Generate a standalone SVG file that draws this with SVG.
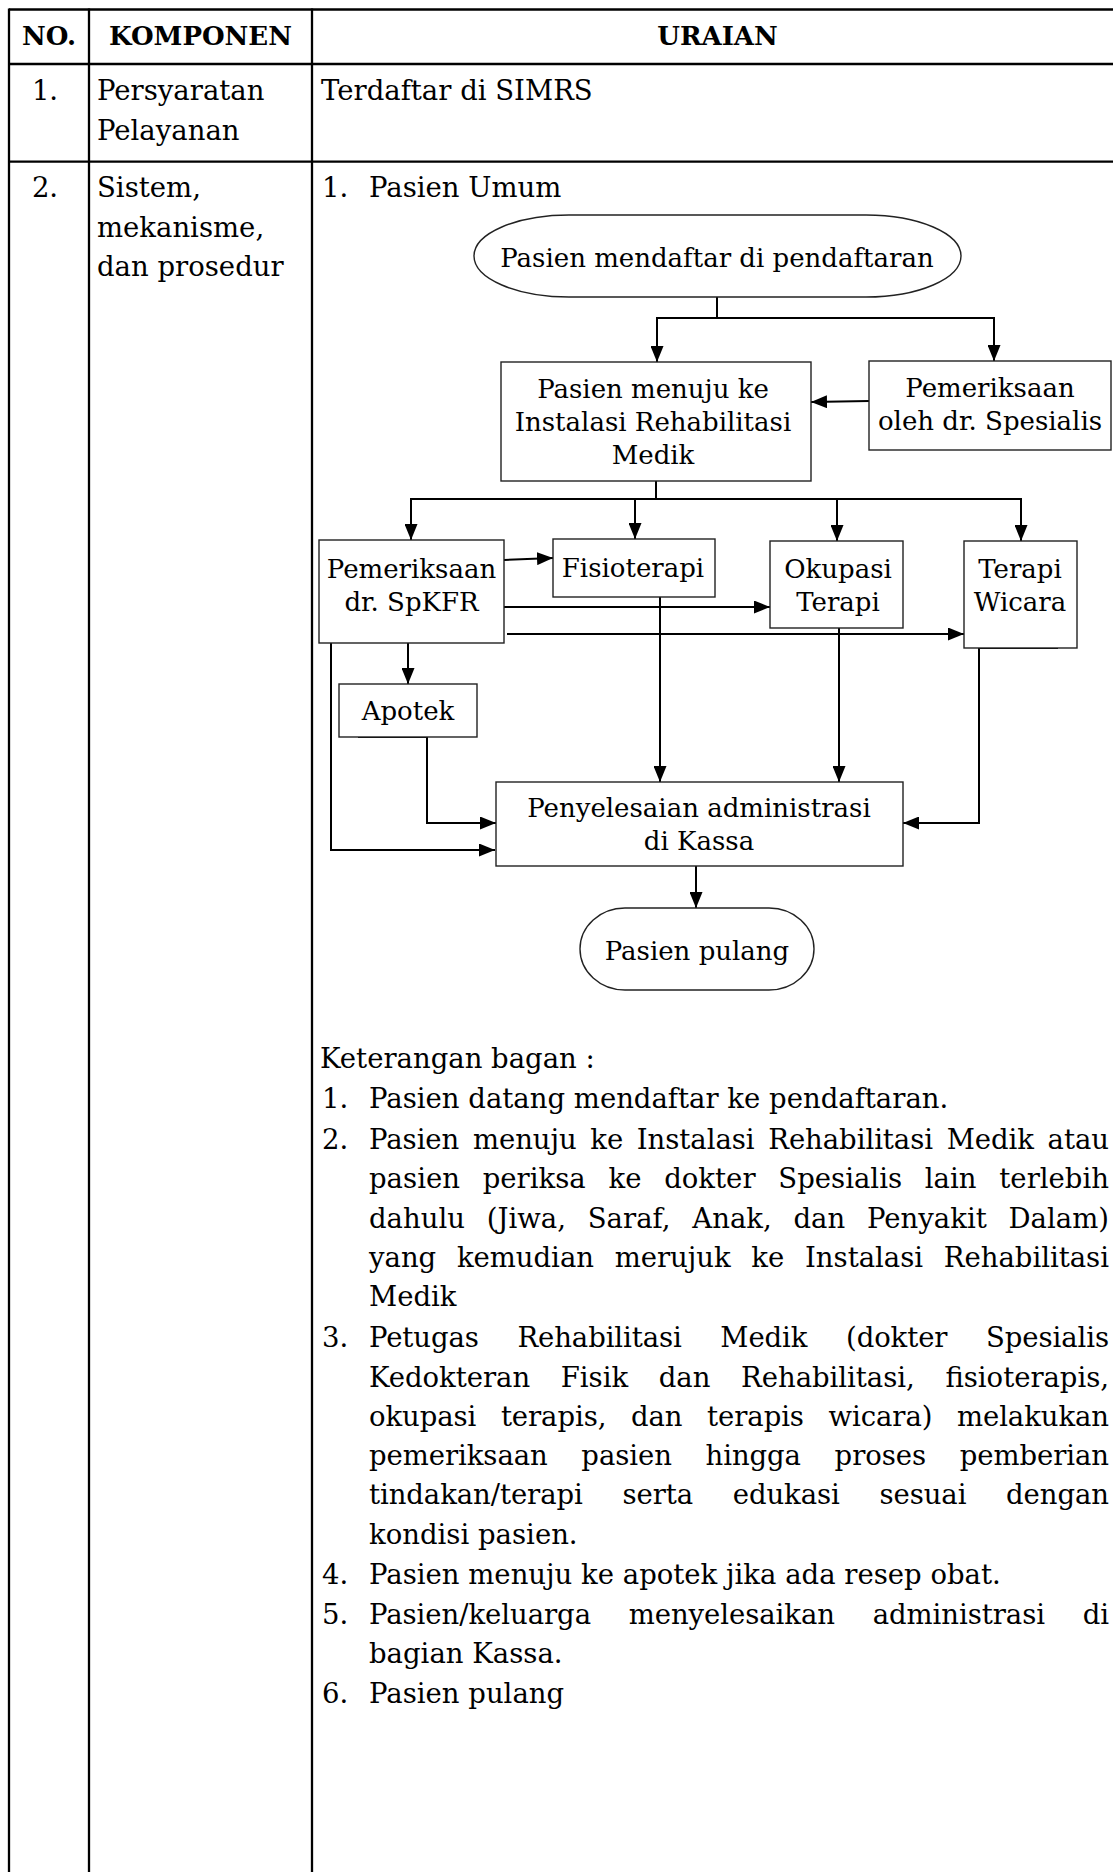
<svg xmlns="http://www.w3.org/2000/svg" width="1113" height="1872" viewBox="0 0 1113 1872">
<style>
.bg{fill:#fff}
.tb{stroke:#000;stroke-width:2.3;fill:none}
.nd{fill:#fff;stroke:#222;stroke-width:1.4}
.cn{fill:none;stroke:#000;stroke-width:2}
.t{font-family:"DejaVu Serif","Liberation Serif",serif;font-size:27.5px;fill:#000}
.th{font-family:"DejaVu Serif","Liberation Serif",serif;font-size:26px;font-weight:bold;fill:#000;text-anchor:middle}
.f{font-family:"DejaVu Serif","Liberation Serif",serif;font-size:26px;fill:#000;text-anchor:middle}
</style>
<defs>
<marker id="ah" markerUnits="userSpaceOnUse" markerWidth="16" markerHeight="13" refX="16" refY="6.5" orient="auto">
<path d="M0,0 L16,6.5 L0,13 z" fill="#000"/>
</marker>
</defs>
<rect class="bg" x="0" y="0" width="1113" height="1872"/>

<g id="table">
<line class="tb" x1="9" y1="9.5" x2="1113" y2="9.5"/>
<line class="tb" x1="9" y1="64" x2="1113" y2="64"/>
<line class="tb" x1="9" y1="161.7" x2="1113" y2="161.7"/>
<line class="tb" x1="9" y1="8.5" x2="9" y2="1872"/>
<line class="tb" x1="89" y1="8.5" x2="89" y2="1872"/>
<line class="tb" x1="312" y1="8.5" x2="312" y2="1872"/>
<text class="th" x="49" y="45">NO.</text>
<text class="th" x="200.5" y="45">KOMPONEN</text>
<text class="th" x="717.5" y="45">URAIAN</text>
<text class="t" x="45" y="100" text-anchor="middle">1.</text>
<text class="t" x="97" y="100">Persyaratan</text>
<text class="t" x="97" y="140">Pelayanan</text>
<text class="t" x="321" y="100">Terdaftar di SIMRS</text>
<text class="t" x="45" y="197" text-anchor="middle">2.</text>
<text class="t" x="97" y="197">Sistem,</text>
<text class="t" x="97" y="236.5">mekanisme,</text>
<text class="t" x="97" y="276">dan prosedur</text>
<text class="t" x="322" y="197">1.</text>
<text class="t" x="369" y="197">Pasien Umum</text>
</g>

<g id="connectors">
<path class="cn" d="M717,297 V318"/>
<path class="cn" d="M717,318 H657 V362" marker-end="url(#ah)"/>
<path class="cn" d="M717,318 H994 V361" marker-end="url(#ah)"/>
<path class="cn" d="M869,401 L811,402" marker-end="url(#ah)"/>
<path class="cn" d="M656,481 V499"/>
<path class="cn" d="M656,499 H411 V540" marker-end="url(#ah)"/>
<path class="cn" d="M635,499 V539" marker-end="url(#ah)"/>
<path class="cn" d="M656,499 H1021 V541" marker-end="url(#ah)"/>
<path class="cn" d="M837,499 V541" marker-end="url(#ah)"/>
<path class="cn" d="M504,560 L553,558" marker-end="url(#ah)"/>
<path class="cn" d="M504,607 H770" marker-end="url(#ah)"/>
<path class="cn" d="M507,634 H964" marker-end="url(#ah)"/>
<path class="cn" d="M408,643 V684" marker-end="url(#ah)"/>
<path class="cn" d="M331,643 V850 H495" marker-end="url(#ah)"/>
<path class="cn" d="M358,737 H427 V823 H496" marker-end="url(#ah)"/>
<path class="cn" d="M660,597 V782" marker-end="url(#ah)"/>
<path class="cn" d="M839,628 V782" marker-end="url(#ah)"/>
<path class="cn" d="M1058,648 H979 V823 H903" marker-end="url(#ah)"/>
<path class="cn" d="M696,866 V908" marker-end="url(#ah)"/>
</g>

<g id="n-daftar">
<rect class="nd" x="474" y="215" width="487" height="82" rx="95" ry="41"/>
<text class="f" x="717" y="267">Pasien mendaftar di pendaftaran</text>
</g>
<g id="n-instalasi">
<rect class="nd" x="501" y="362" width="310" height="119"/>
<text class="f" x="653" y="398">Pasien menuju ke</text>
<text class="f" x="653" y="431">Instalasi Rehabilitasi</text>
<text class="f" x="653" y="464">Medik</text>
</g>
<g id="n-spesialis">
<rect class="nd" x="869" y="361" width="242" height="89"/>
<text class="f" x="990" y="397">Pemeriksaan</text>
<text class="f" x="990" y="430">oleh dr. Spesialis</text>
</g>
<g id="n-spkfr">
<rect class="nd" x="319" y="540" width="185" height="103"/>
<text class="f" x="411.5" y="578">Pemeriksaan</text>
<text class="f" x="411.5" y="611">dr. SpKFR</text>
</g>
<g id="n-fisio">
<rect class="nd" x="553" y="539" width="162" height="58"/>
<text class="f" x="633" y="577">Fisioterapi</text>
</g>
<g id="n-okupasi">
<rect class="nd" x="770" y="541" width="133" height="87"/>
<text class="f" x="838" y="578">Okupasi</text>
<text class="f" x="838" y="611">Terapi</text>
</g>
<g id="n-wicara">
<rect class="nd" x="964" y="541" width="113" height="107"/>
<text class="f" x="1020" y="578">Terapi</text>
<text class="f" x="1020" y="611">Wicara</text>
</g>
<g id="n-apotek">
<rect class="nd" x="339" y="684" width="138" height="53"/>
<text class="f" x="408" y="720">Apotek</text>
</g>
<g id="n-kassa">
<rect class="nd" x="496" y="782" width="407" height="84"/>
<text class="f" x="699" y="817">Penyelesaian administrasi</text>
<text class="f" x="699" y="850">di Kassa</text>
</g>
<g id="n-pulang">
<rect class="nd" x="580" y="908" width="234" height="82" rx="45" ry="41"/>
<text class="f" x="697" y="960">Pasien pulang</text>
</g>

<g id="keterangan">
<text class="t" x="320" y="1068">Keterangan bagan :</text>
<text class="t" x="322" y="1108">1.</text>
<text class="t" x="369" y="1108">Pasien datang mendaftar ke pendaftaran.</text>
<text class="t" x="322" y="1149">2.</text>
<text class="t" x="369" y="1149" textLength="740" lengthAdjust="spacing" style="word-spacing:5px">Pasien menuju ke Instalasi Rehabilitasi Medik atau</text>
<text class="t" x="369" y="1188" textLength="740" lengthAdjust="spacing" style="word-spacing:14px">pasien periksa ke dokter Spesialis lain terlebih</text>
<text class="t" x="369" y="1227.5" textLength="740" lengthAdjust="spacing" style="word-spacing:13px">dahulu (Jiwa, Saraf, Anak, dan Penyakit Dalam)</text>
<text class="t" x="369" y="1267" textLength="740" lengthAdjust="spacing" style="word-spacing:12px">yang kemudian merujuk ke Instalasi Rehabilitasi</text>
<text class="t" x="369" y="1306">Medik</text>
<text class="t" x="322" y="1347">3.</text>
<text class="t" x="369" y="1347" textLength="740" lengthAdjust="spacing" style="word-spacing:30px">Petugas Rehabilitasi Medik (dokter Spesialis</text>
<text class="t" x="369" y="1386.5" textLength="740" lengthAdjust="spacing" style="word-spacing:22px">Kedokteran Fisik dan Rehabilitasi, fisioterapis,</text>
<text class="t" x="369" y="1426" textLength="740" lengthAdjust="spacing" style="word-spacing:16px">okupasi terapis, dan terapis wicara) melakukan</text>
<text class="t" x="369" y="1465" textLength="740" lengthAdjust="spacing" style="word-spacing:25px">pemeriksaan pasien hingga proses pemberian</text>
<text class="t" x="369" y="1504" textLength="740" lengthAdjust="spacing" style="word-spacing:31px">tindakan/terapi serta edukasi sesuai dengan</text>
<text class="t" x="369" y="1543.5">kondisi pasien.</text>
<text class="t" x="322" y="1584">4.</text>
<text class="t" x="369" y="1584">Pasien menuju ke apotek jika ada resep obat.</text>
<text class="t" x="322" y="1623.5">5.</text>
<text class="t" x="369" y="1623.5" textLength="740" lengthAdjust="spacing" style="word-spacing:29px">Pasien/keluarga menyelesaikan administrasi di</text>
<text class="t" x="369" y="1663">bagian Kassa.</text>
<text class="t" x="322" y="1703">6.</text>
<text class="t" x="369" y="1703">Pasien pulang</text>
</g>
</svg>
